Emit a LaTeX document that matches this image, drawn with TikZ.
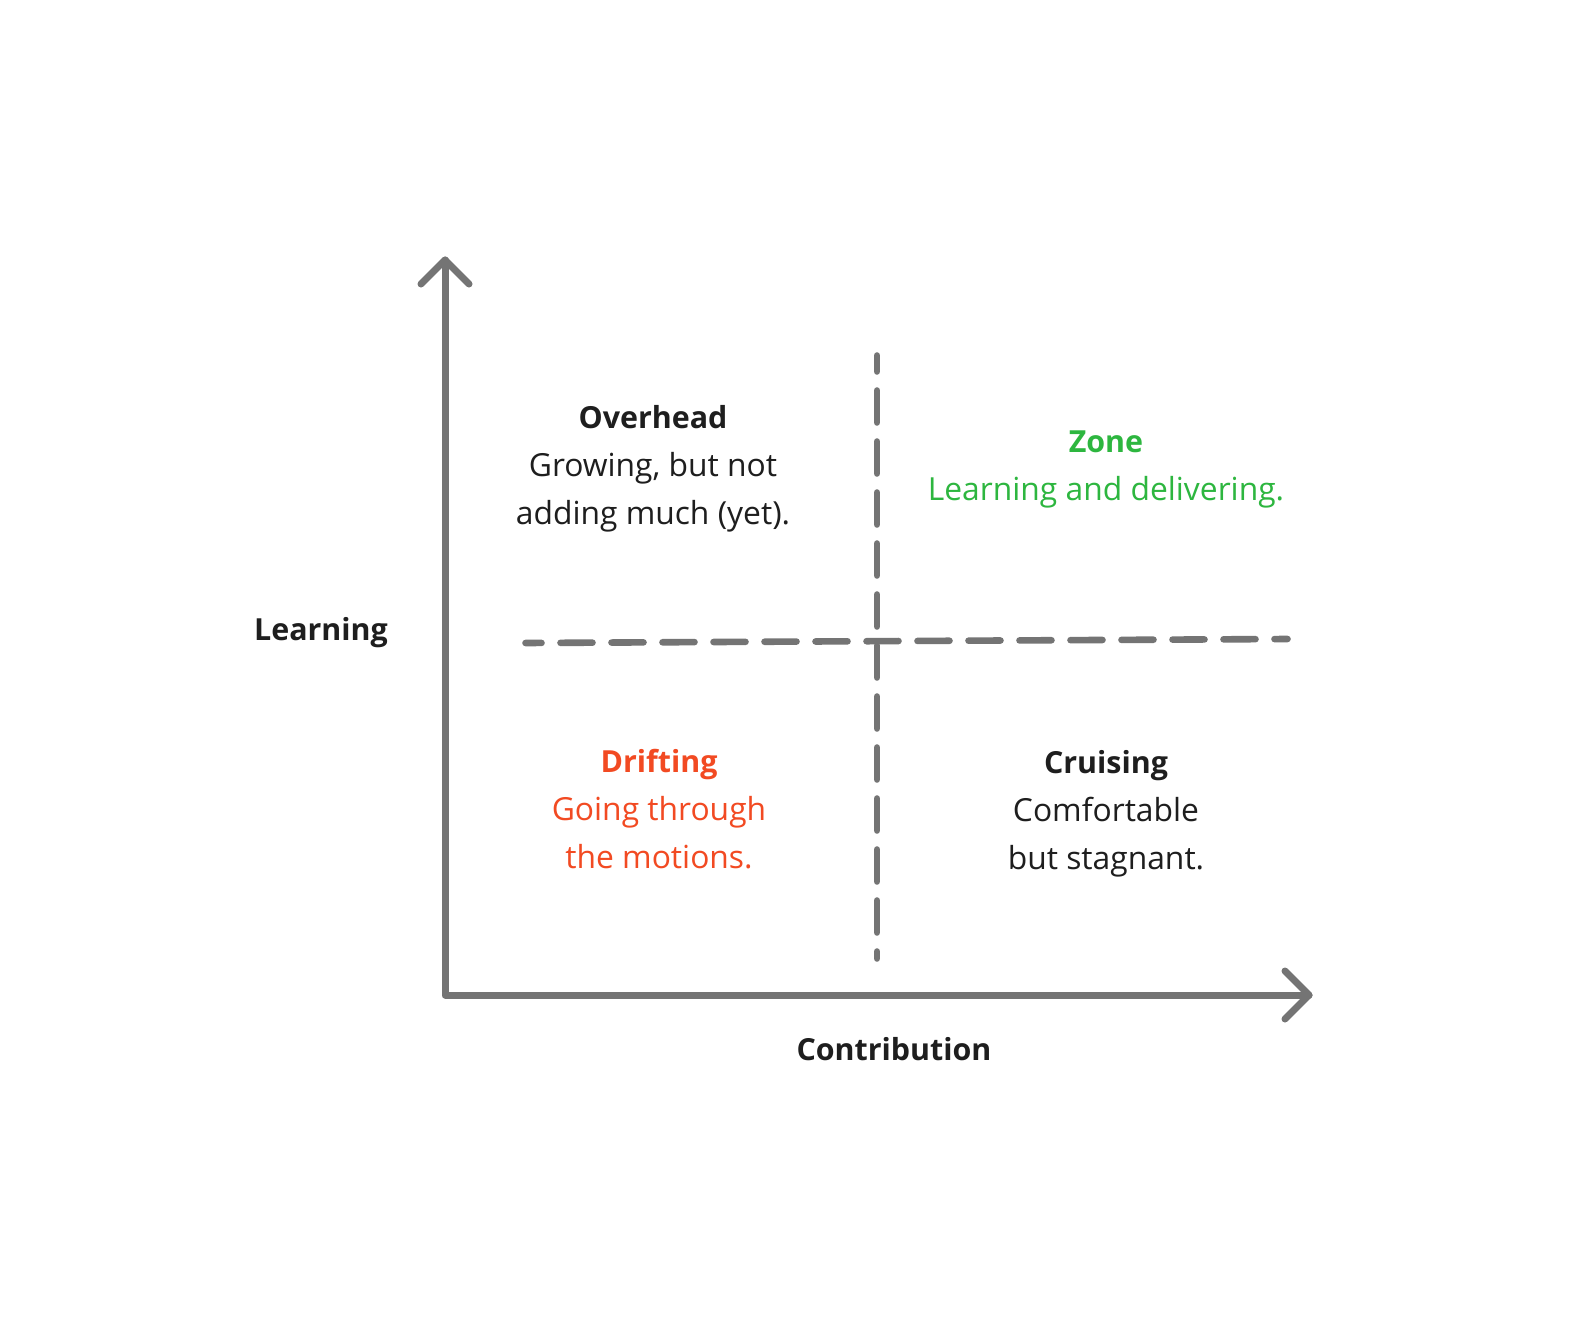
\documentclass[tikz,border=0pt]{standalone}
\usepackage{fontspec}
\setmainfont{Open Sans}
\definecolor{axisgray}{HTML}{747474}
\definecolor{inkdark}{HTML}{1E1E1E}
\definecolor{zonegreen}{HTML}{2DB63F}
\definecolor{driftred}{HTML}{F24A22}
\newcommand{\qhead}[1]{{\fontsize{15.2pt}{24pt}\selectfont\bfseries #1}}
\begin{document}
\begin{tikzpicture}[x=0.5pt,y=-0.5pt,
  axisline/.style={draw=axisgray,line width=3.5pt,line cap=round,line join=round},
  divider/.style={draw=axisgray,line width=3.3pt,line cap=round,dash pattern=on 16pt off 9.5pt,dash phase=8pt},
  quad/.style={align=center,inner sep=0pt,font=\fontsize{15.9pt}{24pt}\selectfont},
  axlabel/.style={inner sep=0pt,text=inkdark,font=\fontsize{15.2pt}{24pt}\selectfont\bfseries}]
\useasboundingbox[fill=white] (0,0) rectangle (1570,1317);
% coordinates
\coordinate (origin) at (445,995);
\coordinate (ytip) at (445,260);
\coordinate (xtip) at (1309,995);
\coordinate (yarmL) at (421,284);
\coordinate (yarmR) at (469,284);
\coordinate (xarmU) at (1285,971);
\coordinate (xarmD) at (1285,1019);
\coordinate (vtop) at (877,355.5);
\coordinate (vbot) at (877,958.5);
\coordinate (hleft) at (525.5,643);
\coordinate (hright) at (1287.5,639);
% axes
\draw[axisline] (ytip) -- (origin) -- (xtip);
\draw[axisline] (yarmL) -- (ytip) -- (yarmR);
\draw[axisline] (xarmU) -- (xtip) -- (xarmD);
% dividers
\draw[divider] (vtop) -- (vbot);
\draw[divider] (hleft) -- (hright);
% quadrant texts
\node[quad,text=inkdark] (overhead) at (653,469) {\qhead{Overhead}\\Growing, but not\\adding much (yet).};
\node[quad,text=zonegreen] (zone) at (1106,469) {\qhead{Zone}\\Learning and delivering.};
\node[quad,text=driftred] (drifting) at (659,809) {\qhead{Drifting}\\Going through\\the motions.};
\node[quad,text=inkdark] (cruising) at (1106,814) {\qhead{Cruising}\\Comfortable\\but stagnant.};
% axis labels
\node[axlabel] (ylabel) at (321,633) {Learning};
\node[axlabel] (xlabel) at (894,1049) {Contribution};
\end{tikzpicture}
\end{document}
